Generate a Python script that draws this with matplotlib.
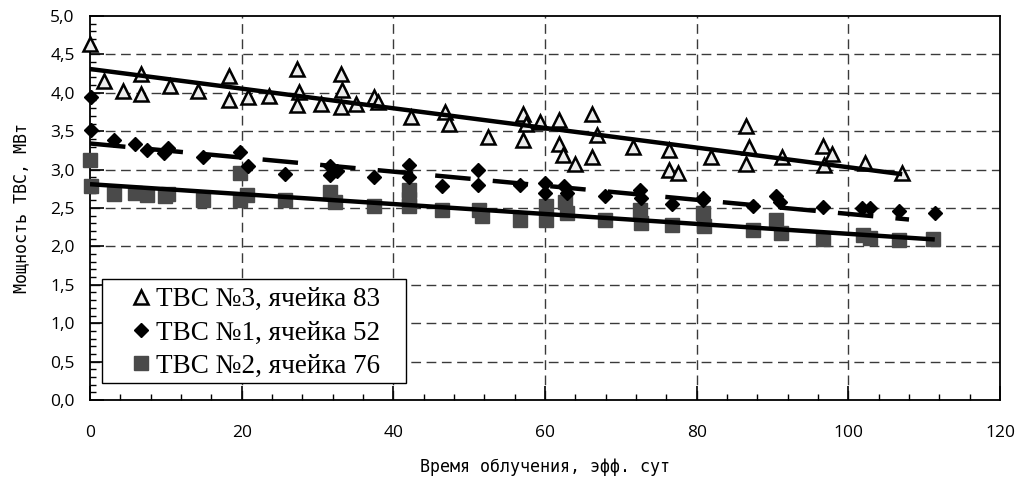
import matplotlib
matplotlib.use("Agg")
import matplotlib.pyplot as plt
from matplotlib.patches import Rectangle
from matplotlib.ticker import MultipleLocator

# ТВС №3, ячейка 83
fa3_days = [0, 1.9, 4.4, 6.7, 6.7, 10.5, 14.2, 18.3, 18.3, 20.9, 23.6, 27.3, 27.6, 27.3,
            30.4, 33.1, 33.2, 33.1, 35.1, 37.5, 38.0, 42.3, 46.8, 47.4, 52.5, 57.1, 57.5,
            57.1, 59.4, 61.8, 61.8, 62.4, 64.0, 66.2, 66.8, 66.2, 71.6, 76.3, 76.3, 77.5,
            81.9, 86.5, 86.9, 86.5, 91.3, 96.7, 97.8, 96.8, 102.2, 107.1]
fa3_power = [4.64, 4.16, 4.02, 4.24, 3.98, 4.09, 4.02, 4.22, 3.91, 3.95, 3.96, 4.31, 4.01, 3.84,
             3.86, 4.25, 4.04, 3.81, 3.86, 3.95, 3.88, 3.69, 3.75, 3.60, 3.43, 3.72, 3.59,
             3.39, 3.62, 3.64, 3.33, 3.19, 3.07, 3.72, 3.45, 3.16, 3.30, 3.25, 2.99, 2.96,
             3.16, 3.57, 3.30, 3.07, 3.16, 3.31, 3.20, 3.06, 3.08, 2.96]

# ТВС №1, ячейка 52
fa1_days = [0.1, 0.1, 3.1, 5.9, 7.5, 9.7, 10.3, 14.9, 19.8, 20.9, 25.7, 31.6, 31.6, 32.6,
            37.5, 42.0, 42.0, 46.4, 51.2, 51.2, 56.7, 60.0, 60.0, 62.5, 62.9, 67.9, 72.5,
            72.6, 76.8, 80.9, 80.9, 87.4, 90.5, 91.0, 96.6, 101.8, 102.8, 106.7, 111.4]
fa1_power = [3.95, 3.51, 3.38, 3.33, 3.26, 3.22, 3.28, 3.17, 3.23, 3.05, 2.94, 3.05, 2.93, 2.98,
             2.91, 3.06, 2.91, 2.79, 2.99, 2.80, 2.80, 2.82, 2.70, 2.79, 2.69, 2.65, 2.74,
             2.63, 2.55, 2.63, 2.60, 2.53, 2.65, 2.58, 2.51, 2.50, 2.50, 2.46, 2.44]

# ТВС №2, ячейка 76
fa2_days = [0, 0.1, 3.1, 5.9, 7.5, 9.9, 10.3, 14.9, 19.8, 19.8, 20.7, 25.7, 31.6, 32.3,
            37.4, 42.0, 42.0, 42.0, 46.4, 51.3, 51.7, 56.7, 60.1, 60.1, 62.6, 62.9, 67.9,
            72.5, 72.6, 76.8, 80.9, 81.0, 87.4, 90.5, 91.1, 96.6, 101.9, 102.9, 106.7, 111.2]
fa2_power = [3.13, 2.79, 2.68, 2.70, 2.67, 2.66, 2.68, 2.60, 2.95, 2.60, 2.67, 2.60, 2.71, 2.58,
             2.52, 2.73, 2.62, 2.52, 2.47, 2.48, 2.39, 2.34, 2.52, 2.35, 2.58, 2.43, 2.34,
             2.47, 2.31, 2.28, 2.43, 2.26, 2.22, 2.34, 2.17, 2.09, 2.15, 2.11, 2.08, 2.09]

# linear trends (end points)
trend3_x = [0, 107.1]
trend3_y = [4.31, 2.94]
trend1_x = [0, 108.0]
trend1_y = [3.34, 2.35]
trend2_x = [0, 111.4]
trend2_y = [2.81, 2.09]

labels = ["ТВС №3, ячейка 83", "ТВС №1, ячейка 52", "ТВС №2, ячейка 76"]

fig = plt.figure(figsize=(10.18, 4.8), dpi=100)
ax = fig.add_axes([90 / 1018, 80 / 480, 910 / 1018, 384 / 480])

grid_kw = dict(color="#3a3a3a", lw=1.0, dashes=(7, 4), zorder=0)
for yv in [0.5, 1.0, 1.5, 2.0, 2.5, 3.0, 3.5, 4.0, 4.5]:
    ax.axhline(yv, **grid_kw)
for xv in [20, 40, 60, 80, 100]:
    ax.axvline(xv, **grid_kw)

sq, = ax.plot(fa2_days, fa2_power, ls="none", marker="s", ms=10, color="#4a4a4a",
              mec="#4a4a4a", zorder=3, clip_on=False)
dia, = ax.plot(fa1_days, fa1_power, ls="none", marker="D", ms=7.5, color="black",
               zorder=4, clip_on=False)
tri, = ax.plot(fa3_days, fa3_power, ls="none", marker="^", ms=10, mfc="#ececec",
               mec="black", mew=1.8, zorder=5, clip_on=False)

ax.plot(trend3_x, trend3_y, color="black", lw=3.2, zorder=6, solid_capstyle="butt")
ax.plot(trend1_x, trend1_y, color="black", lw=3.2, zorder=6, dashes=(8, 5),
        dash_capstyle="butt")
ax.plot(trend2_x, trend2_y, color="black", lw=3.2, zorder=6, solid_capstyle="butt")

ax.set_xlim(0, 120)
ax.set_ylim(0, 5)
ax.xaxis.set_major_locator(MultipleLocator(20))
ax.xaxis.set_minor_locator(MultipleLocator(4))
ax.yaxis.set_major_locator(MultipleLocator(0.5))
ax.yaxis.set_minor_locator(MultipleLocator(0.1))
ax.set_yticks(ax.get_yticks())
ax.set_yticklabels([f"{v:.1f}".replace(".", ",") for v in ax.get_yticks()])
ax.set_ylim(0, 5)

for s in ax.spines.values():
    s.set_linewidth(1.3)
    s.set_color("black")

ax.tick_params(which="major", direction="in", length=10, width=1.2)
ax.tick_params(which="minor", direction="in", length=4, width=1.0)
ax.tick_params(axis="x", which="major", pad=18)
ax.tick_params(axis="y", which="major", pad=11)
ax.tick_params(top=False, right=False, which="both")
for lab in ax.get_xticklabels() + ax.get_yticklabels():
    lab.set_fontfamily("Open Sans")
    lab.set_fontsize(12.5)

ax.set_xlabel("Время облучения, эфф. сут", family="DejaVu Sans Mono", fontsize=12,
              labelpad=12)
ax.set_ylabel("Мощность ТВС, МВт", family="DejaVu Sans Mono", fontsize=12, labelpad=14)

# legend box drawn separately so the padding around the entries can be set freely
ax.add_patch(Rectangle((0.0132, 0.0443), 0.3341, 0.2708, transform=ax.transAxes,
                       facecolor="white", edgecolor="black", lw=1.0, zorder=9,
                       clip_on=False))
leg = ax.legend([tri, dia, sq], labels, loc="center left", bbox_to_anchor=(0.0445, 0.1745),
                borderaxespad=0, borderpad=0, frameon=False,
                prop={"family": "Liberation Serif", "size": 19.5},
                handlelength=0.8, handletextpad=0.15, labelspacing=0.3, markerscale=1.0)
leg.set_zorder(10)

fig.savefig("out.png", dpi=100)
